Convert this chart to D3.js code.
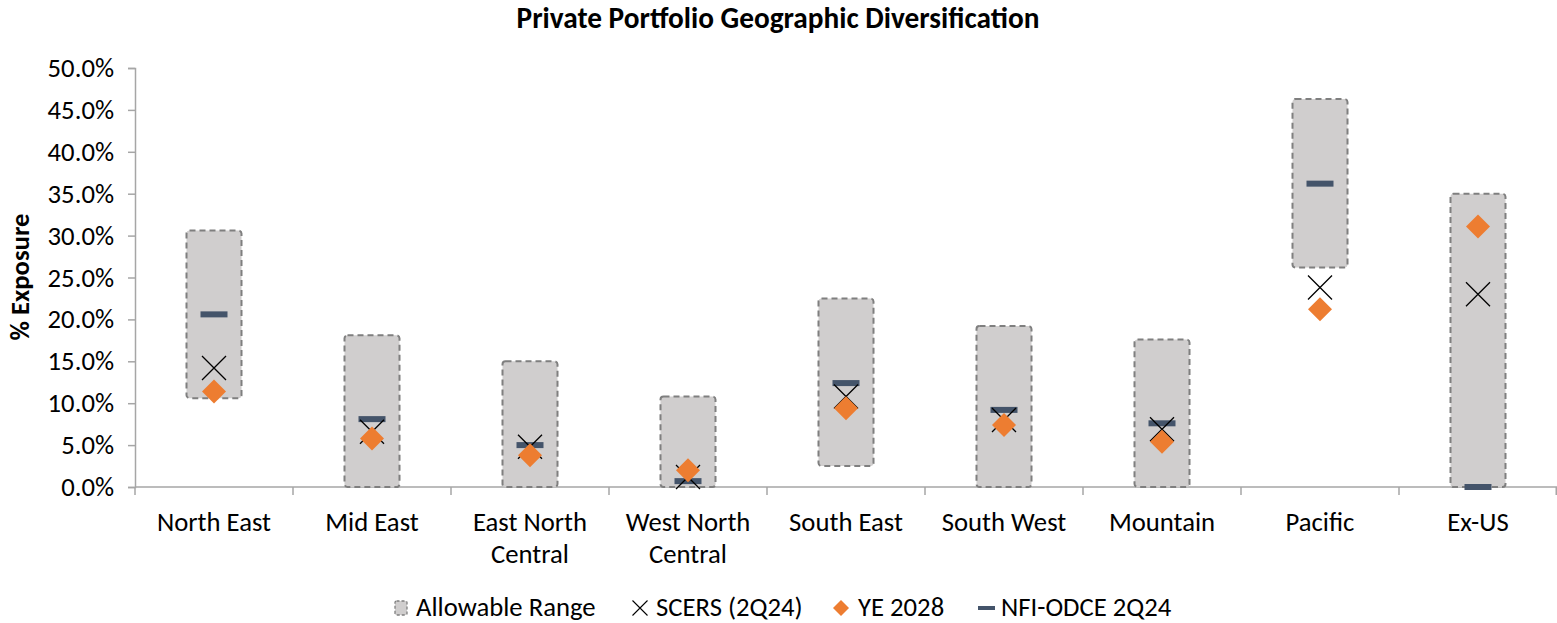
<!doctype html>
<html>
  <head>
    <meta charset='utf-8'>
    <script src="https://d3js.org/d3.v7.min.js"></script>
    <style>
      body { margin: 0; background: #fff; }
      svg { font-family: Carlito, Calibri, Lato, sans-serif; }
    </style>
  </head>

  <body>

  <svg width="1557" height="623"></svg>

  <script>
    const categories = ["North East", "Mid East", "East North Central", "West North Central",
                        "South East", "South West", "Mountain", "Pacific", "Ex-US"];
    const catLines = [["North East"], ["Mid East"], ["East North", "Central"], ["West North", "Central"],
                      ["South East"], ["South West"], ["Mountain"], ["Pacific"], ["Ex-US"]];
    const rangeLow  = [0.106, 0.0, 0.0, 0.0, 0.025, 0.0, 0.0, 0.262, 0.0];
    const rangeHigh = [0.306, 0.181, 0.150, 0.108, 0.225, 0.192, 0.176, 0.463, 0.350];
    const scers     = [0.142, 0.066, 0.048, 0.012, 0.108, 0.080, 0.069, 0.238, 0.230];
    const ye2028    = [0.114, 0.058, 0.038, 0.020, 0.094, 0.074, 0.054, 0.212, 0.311];
    const odce      = [0.206, 0.081, 0.050, 0.007, 0.124, 0.092, 0.076, 0.362, 0.000];
    const yTicks = [0, 0.05, 0.10, 0.15, 0.20, 0.25, 0.30, 0.35, 0.40, 0.45, 0.50];
    const legendItems = ["Allowable Range", "SCERS (2Q24)", "YE 2028", "NFI-ODCE 2Q24"];

    const svg = d3.select("svg");
    const axisColor = "#a6a6a6";
    const boxFill = "#d0cece", boxStroke = "#7f7f7f";
    const orange = "#ed7d31", navy = "#44546a";
    const labelSize = "26.7px";

    const x = d3.scaleBand().domain(categories).range([135, 1557]).padding(0);
    const y = d3.scaleLinear().domain([0, 0.5]).range([487, 68]);

    // title
    svg.append("text")
      .attr("x", 778).attr("y", 28)
      .attr("text-anchor", "middle")
      .style("font-size", "29.3px").style("font-weight", "bold")
      .text("Private Portfolio Geographic Diversification");

    // y axis title
    svg.append("text")
      .attr("transform", "translate(29,277) rotate(-90)")
      .attr("text-anchor", "middle")
      .style("font-size", labelSize).style("font-weight", "bold")
      .text("% Exposure");

    // y axis
    const yAxis = svg.append("g")
      .attr("transform", "translate(135,0)")
      .call(d3.axisLeft(y).tickValues(yTicks).tickFormat(d3.format(".1%")).tickSize(7).tickPadding(14));
    yAxis.attr("font-family", null).attr("font-size", null);
    yAxis.select(".domain").attr("stroke", axisColor).attr("stroke-width", 1.5);
    yAxis.selectAll(".tick line").attr("stroke", axisColor).attr("stroke-width", 1.5);
    yAxis.selectAll(".tick text").style("font-size", labelSize).attr("fill", "#000");

    // x axis line + boundary ticks
    const xEdges = categories.map((c) => x(c)).concat([x.range()[1] - 0.75]);
    svg.append("line")
      .attr("x1", 135).attr("x2", 1557).attr("y1", y(0)).attr("y2", y(0))
      .attr("stroke", axisColor).attr("stroke-width", 1.5);
    svg.selectAll(".xtick")
      .data(xEdges)
      .enter().append("line")
        .attr("class", "xtick")
        .attr("x1", (d) => d).attr("x2", (d) => d)
        .attr("y1", y(0)).attr("y2", y(0) + 8)
        .attr("stroke", axisColor).attr("stroke-width", 1.5);

    // x labels
    const xl = svg.selectAll(".xlabel")
      .data(categories)
      .enter().append("text")
        .attr("class", "xlabel")
        .attr("text-anchor", "middle")
        .attr("x", (d) => x(d) + x.bandwidth() / 2)
        .attr("y", 531)
        .style("font-size", labelSize);
    xl.selectAll("tspan")
      .data((d) => catLines[categories.indexOf(d)])
      .enter().append("tspan")
        .attr("x", function() { return this.parentNode.getAttribute("x"); })
        .attr("dy", (d, i) => i === 0 ? 0 : 32)
        .text((d) => d);

    const cx = (i) => x(categories[i]) + x.bandwidth() / 2;
    const boxW = 55;

    // allowable range boxes
    svg.selectAll(".range")
      .data(categories)
      .enter().append("rect")
        .attr("class", "range")
        .attr("x", (_, i) => cx(i) - boxW / 2)
        .attr("width", boxW)
        .attr("y", (_, i) => y(rangeHigh[i]))
        .attr("height", (_, i) => y(rangeLow[i]) - y(rangeHigh[i]))
        .attr("rx", 3)
        .attr("fill", boxFill)
        .attr("stroke", boxStroke)
        .attr("stroke-width", 2)
        .attr("stroke-dasharray", "6,4");

    // NFI-ODCE dashes
    svg.selectAll(".odce")
      .data(odce)
      .enter().append("rect")
        .attr("class", "odce")
        .attr("x", (_, i) => cx(i) - 13.5)
        .attr("y", (d) => y(d) - 3)
        .attr("width", 27).attr("height", 6)
        .attr("fill", navy);

    // SCERS x marks
    const xMark = (s) => `M${-s},${-s}L${s},${s}M${-s},${s}L${s},${-s}`;
    svg.selectAll(".scers")
      .data(scers)
      .enter().append("path")
        .attr("class", "scers")
        .attr("transform", (d, i) => `translate(${cx(i)},${y(d)})`)
        .attr("d", xMark(12))
        .attr("stroke", "#000").attr("stroke-width", 1.3).attr("fill", "none");

    // YE 2028 diamonds
    const diamond = (s) => `M0,${-s}L${s},0L0,${s}L${-s},0Z`;
    svg.selectAll(".ye")
      .data(ye2028)
      .enter().append("path")
        .attr("class", "ye")
        .attr("transform", (d, i) => `translate(${cx(i)},${y(d)})`)
        .attr("d", diamond(12))
        .attr("fill", orange);

    // legend
    const legY = 608;
    const legX = [395, 632, 834, 978];
    const leg = svg.append("g");
    leg.append("rect")
      .attr("x", legX[0]).attr("y", legY - 7).attr("width", 12).attr("height", 14)
      .attr("rx", 1.5)
      .attr("fill", boxFill).attr("stroke", boxStroke).attr("stroke-width", 1.3)
      .attr("stroke-dasharray", "3,2");
    leg.append("path")
      .attr("transform", `translate(${legX[1] + 8},${legY})`)
      .attr("d", xMark(7.5))
      .attr("stroke", "#000").attr("stroke-width", 1.1).attr("fill", "none");
    leg.append("path")
      .attr("transform", `translate(${legX[2] + 7},${legY})`)
      .attr("d", diamond(8))
      .attr("fill", orange);
    leg.append("rect")
      .attr("x", legX[3]).attr("y", legY - 2).attr("width", 17).attr("height", 4)
      .attr("fill", navy);
    leg.selectAll(".legtext")
      .data(legendItems)
      .enter().append("text")
        .attr("class", "legtext")
        .attr("x", (_, i) => legX[i] + [21, 24, 24, 23][i])
        .attr("y", legY + 8)
        .style("font-size", labelSize)
        .text((d) => d);
  </script>
  </body>
</html>
